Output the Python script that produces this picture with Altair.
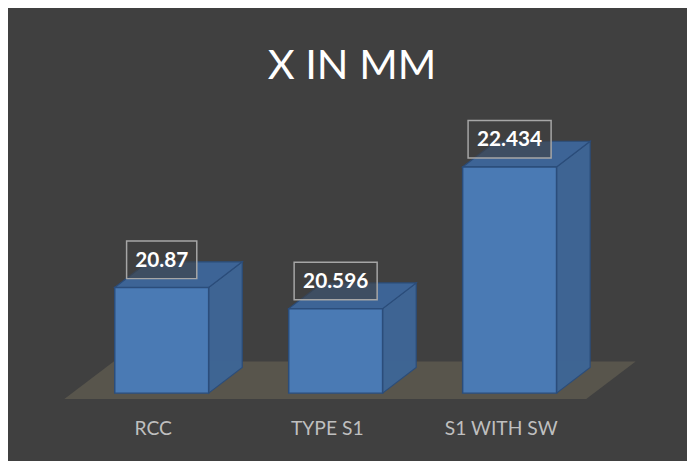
import altair as alt
import pandas as pd

categories = ["RCC", "TYPE S1", "S1 WITH SW"]
values = [20.87, 20.596, 22.434]
value_labels = ["20.87", "20.596", "22.434"]
title_text = "X IN MM"

# ---- geometry (chart units) ----
W, H = 687, 453
PX_X = 176.0          # pixels per category step
PX_Y = 78.0           # pixels per value unit
X0_PAGE = 163.5       # page x of first bar centre
BASE = 19.5           # value at the floor front line
BASE_PAGE = 395.0

x_dom = [(8 - X0_PAGE) / PX_X, (8 + W - X0_PAGE) / PX_X]
y_dom = [BASE - (8 + H - BASE_PAGE) / PX_Y, BASE + (BASE_PAGE - 8) / PX_Y]

half = 47.5 / PX_X
dx = 34 / PX_X
dy = 26 / PX_Y

xs = alt.Scale(domain=x_dom, nice=False, zero=False)
ys = alt.Scale(domain=y_dom, nice=False, zero=False)

front, side, top, boxes, cats = [], [], [], [], []
for i, (c, v, lab) in enumerate(zip(categories, values, value_labels)):
    l, r = i - half, i + half
    front.append({"cat": c, "x": l, "x2": r, "y": BASE, "y2": v})
    side.append({"cat": c, "x": r, "y": BASE, "y2": v})
    side.append({"cat": c, "x": r + dx, "y": BASE + dy, "y2": v + dy})
    top.append({"cat": c, "y": v, "x": l, "x2": r})
    top.append({"cat": c, "y": v + dy, "x": l + dx, "x2": r + dx})
    bw = (13 * len(lab) + 6) / 2 / PX_X
    cy = v + 28 / PX_Y
    bh = 19 / PX_Y
    boxes.append({"cat": c, "label": lab, "x": i - bw, "x2": i + bw,
                  "y": cy - bh, "y2": cy + bh, "cx": i, "cy": cy})
    cats.append({"cat": c, "x": i - 8.5 / PX_X, "y": BASE - 36 / PX_Y})

fl_b = BASE - 6 / PX_Y
fl_t = BASE + 32 / PX_Y
floor = pd.DataFrame([
    {"y": fl_b, "x": (65 - X0_PAGE) / PX_X, "x2": (593 - X0_PAGE) / PX_X},
    {"y": fl_t, "x": (115 - X0_PAGE) / PX_X, "x2": (643 - X0_PAGE) / PX_X},
])

edge = "#2b4d7b"

floor_l = alt.Chart(floor).mark_area(orient="horizontal", color="#58554c").encode(
    y=alt.Y("y:Q", scale=ys, axis=None),
    x=alt.X("x:Q", scale=xs, axis=None),
    x2="x2:Q",
)

side_l = alt.Chart(pd.DataFrame(side)).mark_area(
    color="#3e6696", stroke=edge, strokeWidth=1.2, opacity=0.97
).encode(
    x=alt.X("x:Q", scale=xs, axis=None),
    y=alt.Y("y:Q", scale=ys, axis=None),
    y2="y2:Q",
    detail="cat:N",
)

top_l = alt.Chart(pd.DataFrame(top)).mark_area(
    orient="horizontal", color="#3d6699", stroke=edge, strokeWidth=1.2, opacity=0.97
).encode(
    y=alt.Y("y:Q", scale=ys, axis=None),
    x=alt.X("x:Q", scale=xs, axis=None),
    x2="x2:Q",
    detail="cat:N",
)

front_l = alt.Chart(pd.DataFrame(front)).mark_rect(
    color="#4a7ab4", stroke=edge, strokeWidth=1.5
).encode(
    x=alt.X("x:Q", scale=xs, axis=None),
    x2="x2:Q",
    y=alt.Y("y:Q", scale=ys, axis=None),
    y2="y2:Q",
)

box_df = pd.DataFrame(boxes)
box_l = alt.Chart(box_df).mark_rect(
    fill="#404040", fillOpacity=0.6, stroke="#a6a6a6", strokeWidth=1.5
).encode(
    x=alt.X("x:Q", scale=xs, axis=None),
    x2="x2:Q",
    y=alt.Y("y:Q", scale=ys, axis=None),
    y2="y2:Q",
)

val_l = alt.Chart(box_df).mark_text(
    font="Lato", fontSize=21, fontWeight="bold", color="white", baseline="middle", dy=1
).encode(
    x=alt.X("cx:Q", scale=xs, axis=None),
    y=alt.Y("cy:Q", scale=ys, axis=None),
    text="label:N",
)

cat_l = alt.Chart(pd.DataFrame(cats)).mark_text(
    font="Lato", fontSize=19.5, color="#bfbfbf", baseline="middle"
).encode(
    x=alt.X("x:Q", scale=xs, axis=None),
    y=alt.Y("y:Q", scale=ys, axis=None),
    text="cat:N",
)

title_l = alt.Chart(pd.DataFrame({"t": [title_text]})).mark_text(
    font="Lato", fontSize=42, color="white", baseline="alphabetic"
).encode(
    x=alt.value(348),
    y=alt.value(69),
    text="t:N",
)

chart = alt.layer(
    floor_l, side_l, top_l, front_l, box_l, val_l, cat_l, title_l
).properties(
    width=W, height=H, background="#404040", padding=0,
    autosize=alt.AutoSizeParams(type="none"),
).configure_view(stroke=None)

chart.save("out.html", embed_options={"renderer": "svg", "actions": False})
